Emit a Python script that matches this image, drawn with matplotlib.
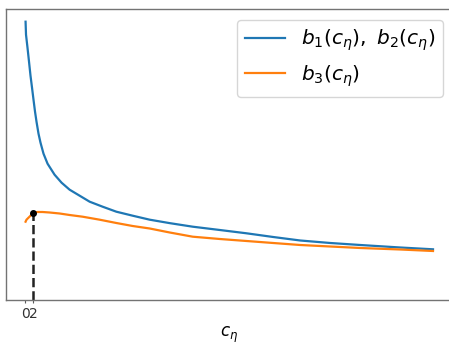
import matplotlib
matplotlib.use("Agg")
import matplotlib.pyplot as plt

# Data (y in arbitrary units; no y ticks shown)
c_blue = [0.02, 0.14, 0.54, 0.95, 1.35, 1.76, 2.16, 2.57, 2.97, 3.51, 4.05,
          4.86, 5.95, 7.84, 9.73, 11.9, 14.6, 17.3, 20.8, 24.5, 28.9, 33.5,
          39.0, 45.1, 52.4, 59.6, 66.8, 74.1, 82.2, 90.3, 101.1, 109.9]
b12 = [2.78, 2.65, 2.52, 2.38, 2.24, 2.12, 2.00, 1.88, 1.78, 1.66, 1.57,
       1.46, 1.36, 1.25, 1.17, 1.10, 1.04, 0.98, 0.93, 0.88, 0.84, 0.80,
       0.765, 0.73, 0.697, 0.664, 0.627, 0.592, 0.567, 0.547, 0.522, 0.504]

c_orange = [0.02, 0.27, 1.08, 1.62, 2.0, 3.24, 4.6, 6.5, 9.2, 11.9, 15.4,
            20.0, 24.5, 28.9, 33.5, 38.9, 45.1, 52.4, 59.6, 66.8, 74.1, 82.2,
            90.3, 101.1, 109.9]
b3 = [0.78, 0.80, 0.83, 0.85, 0.87, 0.877, 0.877, 0.872, 0.862, 0.847, 0.83,
      0.80, 0.767, 0.737, 0.712, 0.672, 0.63, 0.607, 0.587, 0.567, 0.547,
      0.532, 0.517, 0.502, 0.487]

peak_c = 2
peak_b = 0.87
xticks = [0, 2]

fig = plt.figure(figsize=(4.49, 3.45), dpi=100)
ax = fig.add_axes([0.0126, 0.1313, 0.9972, 0.8412])

ax.plot(c_blue, b12, color="#1f77b4", lw=1.6, label=r"$b_1(c_\eta),\ b_2(c_\eta)$")
ax.plot(c_orange, b3, color="#ff7f0e", lw=1.6, label=r"$b_3(c_\eta)$")
ax.vlines(peak_c, 0, peak_b, colors="#222222", linestyles="dashed", lw=1.8)
ax.plot([peak_c], [peak_b], "o", color="black", ms=4)

ax.set_xlim(-5.35, 115.4)
ax.set_ylim(0, 2.902)
ax.set_xticks(xticks)
ax.set_xticklabels([str(t) for t in xticks], fontsize=10, color="#333333")
ax.set_yticks([])
ax.tick_params(axis="x", length=2.5, width=0.8, color="0.35", pad=3)
for s in ax.spines.values():
    s.set_color("0.45")
    s.set_linewidth(1.0)
ax.set_xlabel(r"$c_\eta$", fontsize=12, labelpad=2.5)
ax.legend(loc="upper right", fontsize=14.5)

fig.savefig("out.png", dpi=100)
